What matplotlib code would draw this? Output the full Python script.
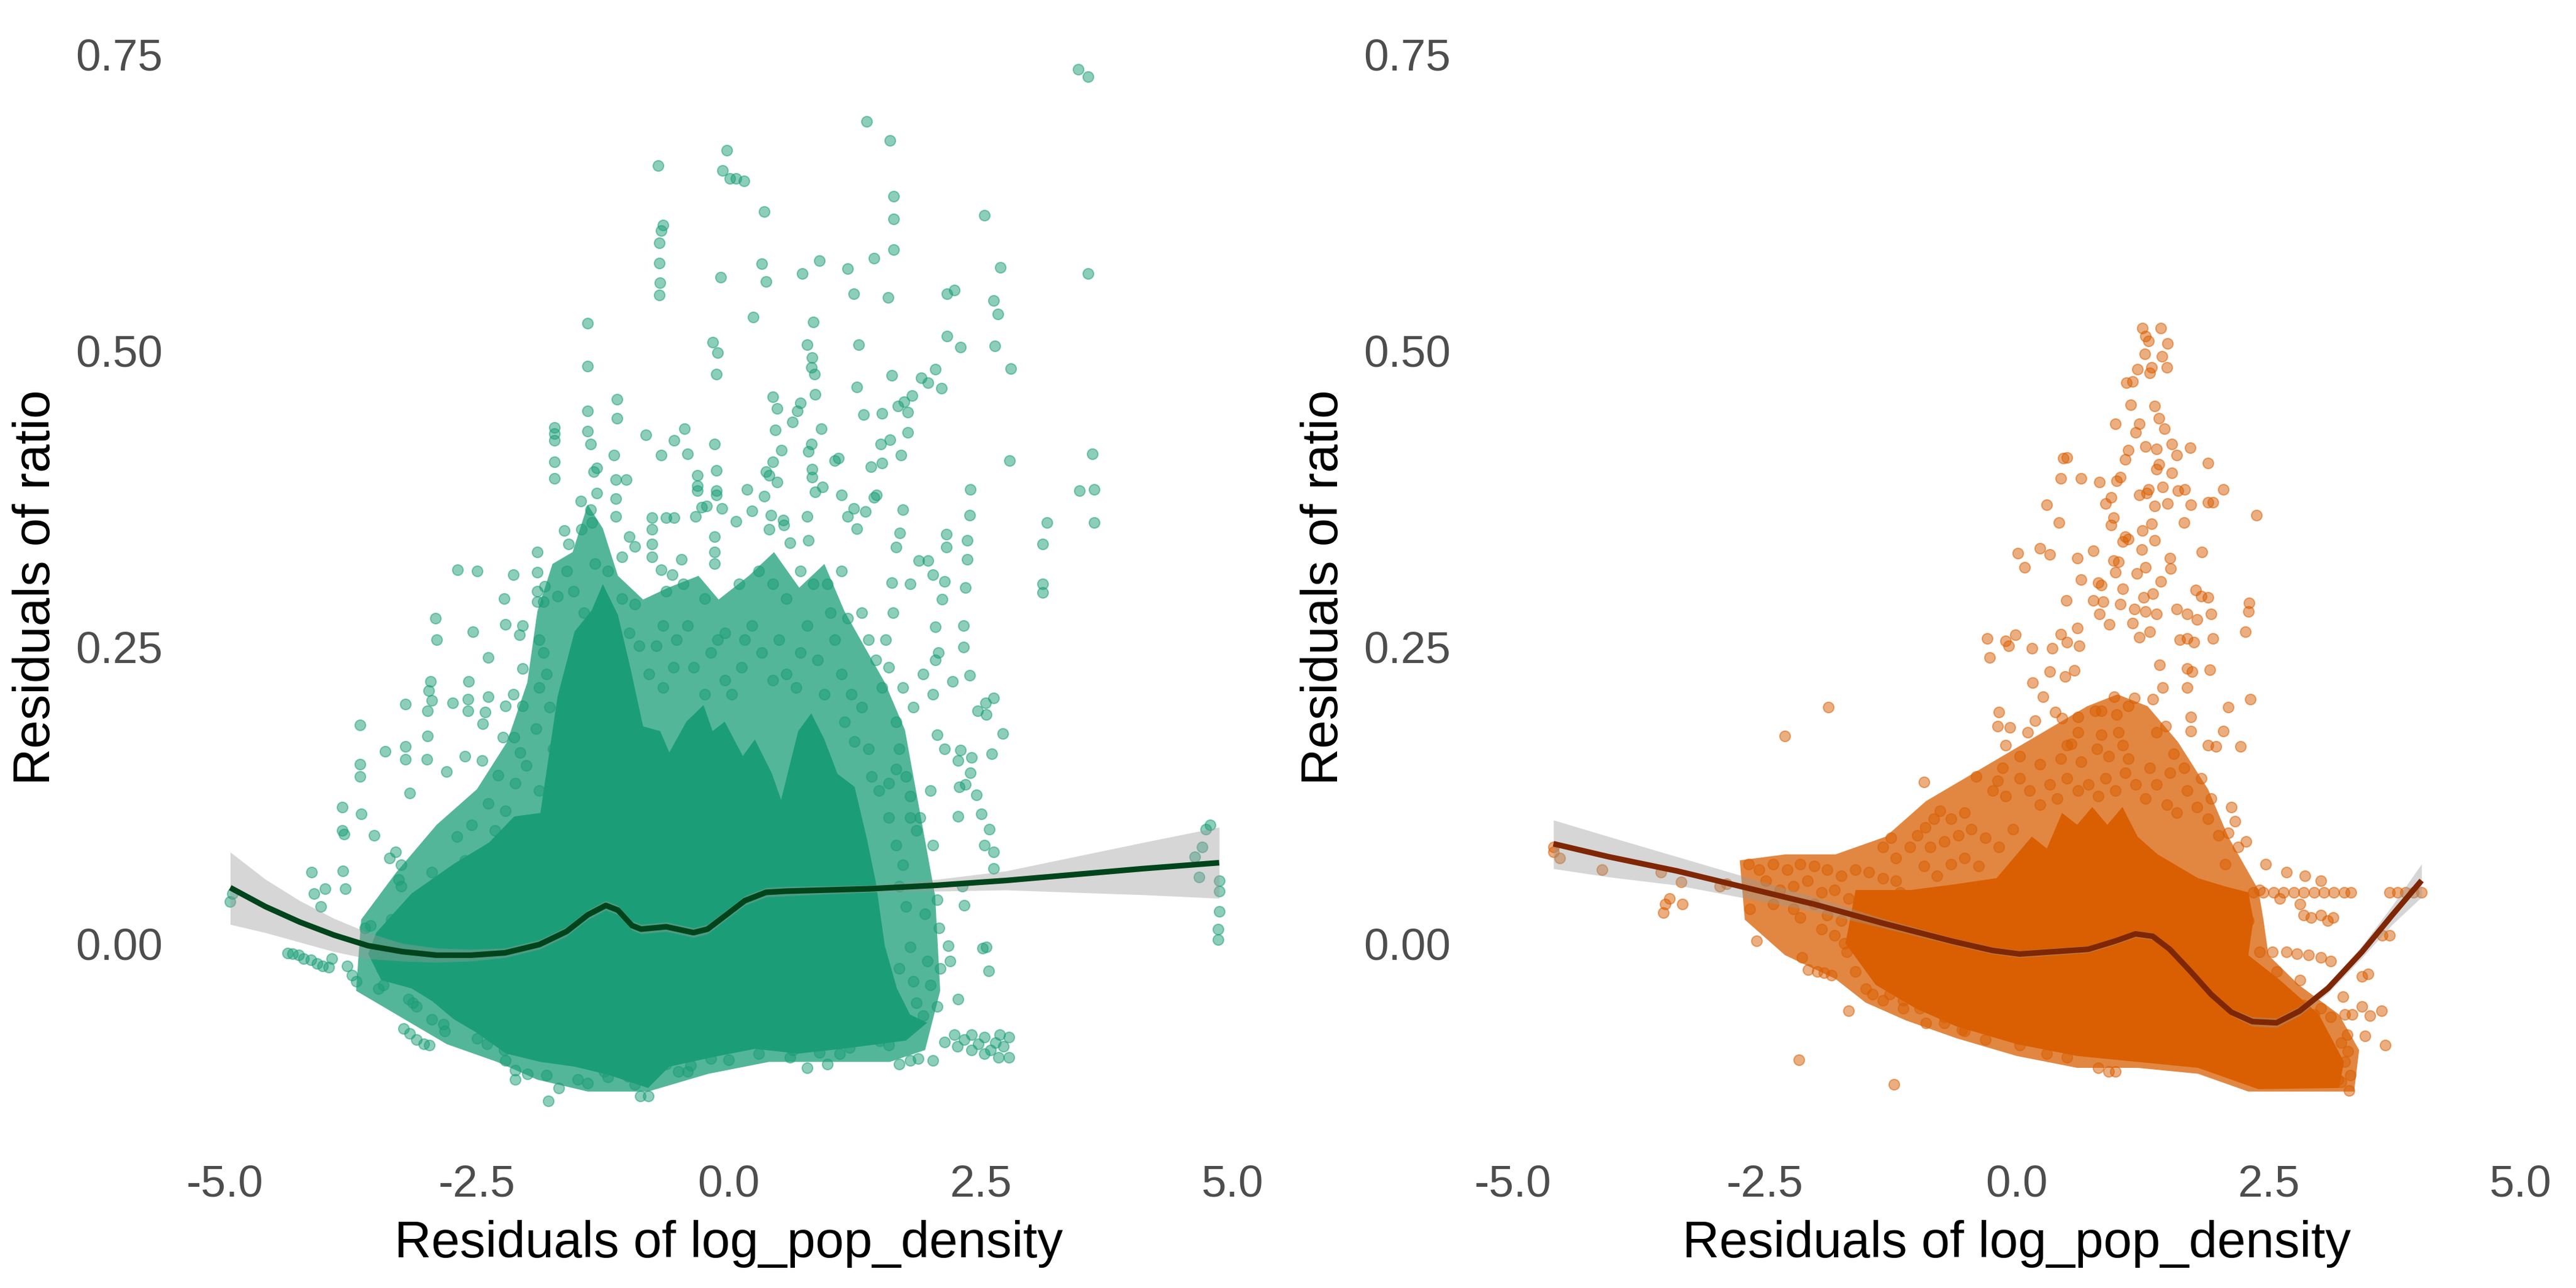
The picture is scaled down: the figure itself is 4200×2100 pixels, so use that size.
import numpy as np
import matplotlib.pyplot as plt

plt.rcParams['font.family'] = ['Liberation Sans', 'DejaVu Sans']

GREEN = '#1b9e77'
ORANGE = '#d95f02'
GREEN_LINE = '#00441b'
ORANGE_LINE = '#7f2704'

x_ticks = [-5.0, -2.5, 0.0, 2.5, 5.0]
x_tick_labels = ['-5.0', '-2.5', '0.0', '2.5', '5.0']
y_ticks = [0.0, 0.25, 0.50, 0.75]
y_tick_labels = ['0.00', '0.25', '0.50', '0.75']

# ---------------- left panel (green) ----------------
# outline of the saturated core of the cloud (points fully overlapping)
left_core_x = [-3.58, -3.50, -3.15, -2.73, -2.38, -2.13, -1.87, -1.70, -1.53, -1.36, -1.25, -1.10,
               -0.97, -0.85, -0.68, -0.59, -0.42, -0.25, -0.16, -0.04, 0.14, 0.26, 0.43, 0.52,
               0.69, 0.82, 0.95, 1.08, 1.25, 1.37, 1.46, 1.55, 1.67, 1.80, 1.97, 1.76, 1.12, 0.69,
               0.26, -0.16, -0.59, -0.80, -1.19, -1.53, -1.87, -2.21, -2.51, -2.73, -2.94, -3.15,
               -3.45]
left_core_y = [-0.009, 0.009, 0.042, 0.067, 0.085, 0.107, 0.110, 0.208, 0.263, 0.281, 0.303, 0.277,
               0.230, 0.183, 0.179, 0.161, 0.187, 0.201, 0.179, 0.187, 0.158, 0.172, 0.143, 0.121,
               0.179, 0.194, 0.172, 0.143, 0.132, 0.089, 0.052, -0.002, -0.038, -0.060, -0.067,
               -0.082, -0.089, -0.093, -0.089, -0.096, -0.104, -0.122, -0.111, -0.104, -0.100,
               -0.093, -0.075, -0.064, -0.049, -0.038, -0.031]

# outline of the thinner zone where the points still overlap a lot
left_halo_x = [-3.70, -3.65, -3.30, -2.90, -2.50, -2.20, -2.00, -1.90, -1.75, -1.55, -1.40, -1.25,
               -1.10, -0.85, -0.60, -0.30, -0.10, 0.20, 0.45, 0.70, 0.95, 1.15, 1.35, 1.55, 1.75,
               1.90, 2.05, 2.10, 1.95, 1.60, 1.00, 0.40, -0.20, -0.80, -1.40, -1.90, -2.30, -2.80,
               -3.30]
left_halo_y = [-0.040, 0.020, 0.060, 0.100, 0.130, 0.170, 0.220, 0.280, 0.320, 0.330, 0.370, 0.350,
               0.310, 0.290, 0.300, 0.310, 0.290, 0.310, 0.330, 0.300, 0.320, 0.280, 0.250, 0.220,
               0.180, 0.110, 0.040, -0.040, -0.090, -0.100, -0.100, -0.100, -0.110, -0.125,
               -0.125, -0.115, -0.100, -0.085, -0.060]

left_high_x = [3.47, 3.57, 1.37, 1.60, -0.70, -0.02, -0.06, 0.01, 0.07, 0.15, 0.35, -0.65, -0.67,
               -0.69, -0.69, -0.68, -0.69, 1.64, 1.64, 1.64, 2.54, 2.70, 3.57, 0.33, 0.37, -0.08,
               0.73, 0.90, 1.18, 1.44, 1.24, 1.58, 2.17, 2.24, 2.63, 2.67, 2.17, 2.30, 2.64, 2.80,
               0.24, 0.84, 0.78, 1.29, -0.16, -0.11, -0.12, -1.40, -1.40, 0.83, 0.82, 0.85, 1.27,
               1.62, 1.91, 1.98, 2.05, 2.11, 1.82, 1.74, 1.68, 1.78, 1.52, 1.34, 0.44, 0.48, 0.63,
               0.68, 0.71, 0.92, 0.46, 0.86, -1.11, -1.11, -1.40, -1.40, -0.82, -0.54, -0.44, -0.14,
               -0.67, -0.41, -1.73, -1.73, -1.73, -1.73, -1.73, -1.37, -1.14, 1.51, 1.60, 1.71,
               1.78, 1.41, 1.52, 2.79, 3.61, 3.48, 3.63, 3.63, 3.16, 3.12, 3.12, 3.12, 2.40, 2.39,
               2.37, 2.37, 2.35, 2.16, 2.16, 1.73, 1.44, 1.70, 1.66, 1.98, 1.89, 1.62, 1.80, 2.03,
               2.14, 2.12]
left_high_y = [0.737, 0.731, 0.693, 0.677, 0.656, 0.669, 0.652, 0.645, 0.645, 0.643, 0.617, 0.606,
               0.601, 0.591, 0.574, 0.557, 0.547, 0.630, 0.611, 0.585, 0.614, 0.570, 0.565, 0.573,
               0.558, 0.562, 0.565, 0.576, 0.569, 0.578, 0.548, 0.545, 0.548, 0.551, 0.542, 0.531,
               0.512, 0.503, 0.504, 0.485, 0.528, 0.524, 0.505, 0.505, 0.507, 0.498, 0.480, 0.523,
               0.487, 0.494, 0.486, 0.480, 0.469, 0.479, 0.477, 0.473, 0.484, 0.468, 0.462, 0.457,
               0.453, 0.448, 0.447, 0.446, 0.461, 0.451, 0.440, 0.449, 0.456, 0.434, 0.433, 0.463,
               0.459, 0.443, 0.449, 0.432, 0.429, 0.424, 0.434, 0.421, 0.412, 0.413, 0.435, 0.430,
               0.424, 0.406, 0.392, 0.421, 0.412, 0.421, 0.425, 0.412, 0.431, 0.402, 0.405, 0.407,
               0.413, 0.382, 0.383, 0.355, 0.355, 0.337, 0.303, 0.296, 0.383, 0.361, 0.340, 0.324,
               0.300, 0.345, 0.334, 0.366, 0.376, 0.346, 0.334, 0.323, 0.323, 0.304, 0.303, 0.311,
               0.305, 0.290]

left_mid_x = [2.33, 2.33, 2.39, 2.05, 2.08, 2.05, 2.22, 2.63, 2.55, 2.47, 2.72, 2.61, 2.56, 2.41,
              2.40, 2.30, 2.28, 2.35, 2.29, 2.46, 2.28, 2.51, 2.59, 2.63, 2.54, 2.63, 2.32, 2.34,
              1.95, 2.09, -3.66, -3.66, -3.66, -3.65, -3.52, -3.41, -3.21, -3.21, -3.21, -3.17,
              -2.99, -3.00, -2.91, -2.90, -2.98, -2.96, -2.95, -2.99, -2.80, -2.62, -2.74, -2.58,
              -2.59, -2.59, -2.54, -2.69, -2.50, -2.39, -2.42, -2.44, -2.39, -2.45, -2.23, -2.22,
              -2.08, -2.05, -2.14, -2.14, -2.22, -2.24, -2.29, -2.05, -2.05, -2.13, -2.07, -1.90,
              -1.90, -1.90, -1.90, -1.83, -1.84, -1.70, -1.63, -1.59, -1.47, -1.46, -1.37, -1.36,
              -1.31, -1.34, -1.31, -1.12, -1.12, -1.12, -1.02, -0.93, -0.76, -0.76, -0.76, -0.76,
              -0.62, -0.54, -0.67, -0.56, -0.47, -0.31, -0.31, -0.31, -0.33, -0.27, -0.12, -0.12,
              -0.12, -0.22, -0.07, 0.07, -0.14, -0.14, -0.14, 0.18, 0.23, 0.35, 0.37, 0.44, 0.40,
              0.48, 0.42, 0.40, 0.54, 0.55, 0.52, 0.79, 0.82, 0.83, 0.83, 0.86, 0.93, 1.05, 1.09,
              1.12, 1.24, 1.27, 1.18, 0.78, 0.61, 0.79, 1.36, 1.47]
left_mid_y = [0.268, 0.250, 0.226, 0.267, 0.245, 0.239, 0.221, 0.207, 0.203, 0.196, 0.177, 0.160,
              0.193, 0.157, 0.144, 0.163, 0.154, 0.134, 0.132, 0.125, 0.107, 0.109, 0.096, 0.077,
              0.083, 0.063, 0.048, 0.032, 0.025, 0.013, 0.184, 0.151, 0.141, 0.109, 0.091, 0.162,
              0.166, 0.155, 0.202, 0.127, 0.175, 0.155, 0.274, 0.256, 0.213, 0.221, 0.205, 0.196,
              0.145, 0.158, 0.203, 0.221, 0.206, 0.196, 0.263, 0.315, 0.314, 0.241, 0.195, 0.185,
              0.208, 0.154, 0.291, 0.269, 0.260, 0.268, 0.311, 0.210, 0.200, 0.174, 0.142, 0.232,
              0.200, 0.174, 0.161, 0.330, 0.313, 0.297, 0.288, 0.301, 0.288, 0.293, 0.348, 0.337,
              0.373, 0.349, 0.366, 0.355, 0.380, 0.398, 0.401, 0.391, 0.375, 0.360, 0.391, 0.335,
              0.359, 0.349, 0.337, 0.326, 0.359, 0.359, 0.315, 0.311, 0.324, 0.395, 0.386, 0.382,
              0.360, 0.368, 0.399, 0.382, 0.378, 0.369, 0.367, 0.356, 0.343, 0.330, 0.320, 0.383,
              0.365, 0.377, 0.398, 0.406, 0.395, 0.389, 0.361, 0.349, 0.357, 0.353, 0.416, 0.415,
              0.421, 0.400, 0.393, 0.381, 0.385, 0.407, 0.409, 0.378, 0.367, 0.350, 0.360, 0.360,
              0.338, 0.340, 0.364, 0.378]

left_dense_x = [-1.88, -1.84, -1.81, -1.88, -1.78, -1.91, -1.74, -2.01, -2.12, -2.22, -2.32, -2.39,
                -1.88, -1.61, -1.54, -1.44, -1.33, -1.20, -1.06, -0.99, -0.89, -0.79, -0.65, -0.55,
                -0.52, -0.41, -0.35, -0.24, -0.18, -0.11, -0.04, 0.03, 0.13, 0.16, 0.23, 0.33, 0.44,
                0.50, 0.57, 0.67, 0.71, 0.78, 0.88, 0.95, 1.01, 1.05, 1.12, 1.15, 1.22, 1.25, 1.32,
                1.39, 1.42, 1.49, 1.52, 1.59, 1.66, 1.69, 1.76, 1.59, -0.65, -0.72, -0.93, -1.06,
                -0.99, -0.62, -0.45, -0.24, -0.04, 0.10, 0.30, 0.44, 0.57, 0.71, 0.84, 0.98, 1.12,
                1.18, 1.32, 1.39, 1.46, 1.56, 1.63, 1.73, 1.83, 1.93, 2.03, 2.07, 2.14, 2.00, 1.90]
left_dense_y = [0.256, 0.245, 0.227, 0.216, 0.199, 0.181, 0.164, 0.150, 0.135, 0.112, 0.095, 0.118,
                0.129, 0.314, 0.297, 0.279, 0.320, 0.314, 0.291, 0.262, 0.251, 0.227, 0.216, 0.233,
                0.256, 0.268, 0.233, 0.210, 0.245, 0.256, 0.222, 0.210, 0.233, 0.256, 0.268, 0.245,
                0.222, 0.256, 0.227, 0.216, 0.245, 0.268, 0.239, 0.210, 0.279, 0.256, 0.227, 0.187,
                0.210, 0.170, 0.199, 0.164, 0.141, 0.129, 0.216, 0.233, 0.187, 0.164, 0.141, 0.106,
                0.268, 0.251, 0.286, 0.326, 0.343, 0.297, 0.303, 0.291, 0.262, 0.303, 0.314, 0.303,
                0.291, 0.314, 0.303, 0.303, 0.314, 0.274, 0.279, 0.256, 0.239, 0.256, 0.279, 0.216,
                0.199, 0.227, 0.210, 0.176, 0.164, 0.129, 0.106]

left_edge_x = [-4.95, -4.93, -4.14, -4.12, -4.01, -4.05, -3.83, -3.81, -3.84, -3.82, -3.84, -4.38,
               -4.33, -4.27, -4.22, -4.15, -4.09, -4.03, -3.97, -3.94, -3.79, -3.74, -3.70, -3.61,
               -3.56, -3.49, -3.45, -3.40, -3.48, -3.43, -3.23, -3.17, -3.10, -3.03, -2.97, -3.18,
               -3.14, -3.10, -3.37, -3.31, -3.25, -3.28, -3.25, -3.35, -3.07, -3.10, -2.91, -2.95,
               -2.83, -2.82, -2.25, -2.23, -2.22, -2.12, -2.12, -1.81, -1.79, -1.69, -1.50, -1.24,
               -1.20, -0.93, -0.88, -0.80, -0.62, -0.41, -0.38, -0.18, 0.16, 0.44, 0.61, 0.64, 0.78,
               0.98, 1.10, 1.36, 1.59, 1.69, 1.80, 1.88, 2.03, 2.14, 2.24, 2.27, 2.34, 2.41, 2.48,
               2.54, 2.60, 2.65, 2.69, 2.73, 2.78, 2.78, 2.68, 2.54, 2.41, 1.66, 1.73, 1.69, 1.76,
               1.80, 1.69, 1.83, 1.86, 1.93, 2.00, 1.97, 1.86, 1.80, 2.03, 2.07, 2.10, 2.07, 1.80,
               1.59, 1.66, 2.56, 2.52, 2.58, 2.28, 2.18, 2.20, 4.63, 4.70, 4.78, 4.74, 4.67, 4.87,
               4.87, 4.87, 4.86, 4.86, -2.70, -2.62, -2.55, -2.88, -2.95, -2.75, -2.65, -2.50,
               -2.40, -2.00, -1.40, -1.00, -0.50, 0.00, 0.30, 0.90, 1.20, 1.50]
left_edge_y = [0.035, 0.042, 0.060, 0.042, 0.046, 0.031, 0.061, 0.046, 0.095, 0.092, 0.115, -0.008,
               -0.009, -0.010, -0.013, -0.014, -0.017, -0.019, -0.020, -0.013, -0.019, -0.027,
               -0.032, 0.013, 0.015, -0.012, -0.021, -0.027, -0.038, -0.035, -0.072, -0.076, -0.081,
               -0.085, -0.086, -0.047, -0.050, -0.053, 0.072, 0.077, 0.066, 0.054, 0.048, 0.020,
               0.031, 0.014, -0.018, -0.064, -0.068, -0.074, -0.083, -0.090, -0.099, -0.107,
               -0.115, -0.111, -0.133, -0.122, -0.115, -0.108, -0.113, -0.119, -0.129, -0.129,
               -0.102, -0.108, -0.103, -0.097, -0.085, -0.085, -0.096, -0.090, -0.105, -0.102,
               -0.093, -0.076, -0.086, -0.102, -0.099, -0.097, -0.099, -0.083, -0.077, -0.087,
               -0.081, -0.077, -0.085, -0.079, -0.090, -0.084, -0.077, -0.087, -0.096, -0.079,
               -0.096, -0.093, -0.090, 0.083, 0.066, 0.048, 0.031, -0.003, -0.021, -0.032, -0.050,
               -0.061, -0.035, -0.015, 0.095, 0.106, 0.083, 0.037, -0.021, -0.053, 0.124, 0.135,
               0.147, -0.003, -0.004, -0.023, -0.047, -0.002, -0.015, 0.073, 0.081, 0.100, 0.096,
               0.056, 0.053, 0.044, 0.027, 0.012, 0.003, 0.090, 0.070, 0.100, 0.040, 0.060, -0.030,
               -0.060, -0.080, -0.085, -0.110, -0.118, -0.112, -0.108, -0.098, -0.093, -0.092,
               -0.088, -0.082]

left_fit_x = [-4.95, -4.60, -4.26, -3.92, -3.58, -3.24, -2.90, -2.56, -2.22, -1.88, -1.61, -1.40,
              -1.22, -1.10, -0.96, -0.87, -0.62, -0.35, -0.21, -0.04, 0.16, 0.37, 0.57, 1.39,
              2.07, 2.75, 3.43, 4.11, 4.87]
left_fit_y = [0.047, 0.031, 0.018, 0.007, -0.002, -0.007, -0.010, -0.010, -0.008, -0.001, 0.010,
              0.024, 0.032, 0.028, 0.015, 0.012, 0.014, 0.009, 0.012, 0.023, 0.036, 0.043, 0.044,
              0.046, 0.049, 0.053, 0.058, 0.063, 0.068]
left_fit_hi = [0.077, 0.054, 0.036, 0.021, 0.009, 0.000, -0.004, -0.005, -0.004, 0.003, 0.014,
               0.028, 0.036, 0.032, 0.019, 0.016, 0.018, 0.013, 0.016, 0.027, 0.040, 0.047, 0.048,
               0.049, 0.054, 0.061, 0.073, 0.085, 0.098]
left_fit_lo = [0.016, 0.009, 0.001, -0.007, -0.013, -0.015, -0.016, -0.015, -0.012, -0.005, 0.006,
               0.020, 0.028, 0.024, 0.011, 0.008, 0.010, 0.005, 0.008, 0.019, 0.032, 0.039, 0.040,
               0.043, 0.044, 0.045, 0.043, 0.041, 0.038]

# ---------------- right panel (orange) ----------------
right_core_x = [-1.60, -1.05, -0.60, -0.20, 0.00, 0.15, 0.30, 0.45, 0.60, 0.75, 0.90, 1.05, 1.20,
                1.40, 1.60, 1.80, 2.07, 2.30, 2.35, 2.30, 2.60, 3.00, 3.25, 3.20, 2.40, 1.80, 1.20,
                0.60, 0.00, -0.60, -1.00, -1.40, -1.70]
right_core_y = [0.045, 0.045, 0.050, 0.055, 0.075, 0.090, 0.080, 0.110, 0.100, 0.115, 0.100, 0.115,
                0.090, 0.075, 0.065, 0.055, 0.048, 0.043, 0.020, -0.010, -0.030, -0.060, -0.100,
                -0.122, -0.123, -0.105, -0.100, -0.095, -0.085, -0.070, -0.055, -0.035, 0.000]

right_halo_x = [-2.75, -2.30, -1.80, -1.30, -0.90, -0.50, -0.10, 0.30, 0.70, 1.00, 1.30, 1.60,
                1.90, 2.10, 2.30, 2.40, 2.45, 2.50, 2.80, 3.20, 3.40, 3.35, 2.80, 2.30, 1.80,
                1.20, 0.60, 0.00, -0.60, -1.10, -1.50, -1.80, -2.30, -2.70]
right_halo_y = [0.070, 0.075, 0.075, 0.090, 0.120, 0.140, 0.160, 0.180, 0.200, 0.210, 0.200,
                0.170, 0.130, 0.090, 0.060, 0.045, 0.020, -0.010, -0.035, -0.060, -0.090, -0.125,
                -0.125, -0.125, -0.110, -0.105, -0.105, -0.095, -0.080, -0.065, -0.050, -0.030,
                -0.010, 0.020]

right_high_x = [1.25, 1.43, 1.28, 1.31, 1.50, 1.27, 1.44, 1.34, 1.20, 1.32, 1.49, 1.15, 1.09, 1.13,
                1.37, 1.41, 1.22, 1.18, 1.47, 0.98, 1.28, 1.11, 1.39, 1.54, 1.72, 1.59, 1.08, 1.41,
                1.39, 1.54, 1.90, 0.46, 0.50, 0.44, 0.64, 0.82, 1.03, 0.99, 1.31, 1.29, 1.22, 1.45,
                1.60, 1.67, 2.05, 1.90, 1.95, 0.94, 0.88, 1.37, 1.50, 1.73, 2.38, 0.30, 0.42, 0.96,
                0.94, 1.34, 1.66, 1.25, 1.37, 1.08, 1.11, 1.05, 0.76, 0.60, 0.23, 0.33, 0.01, 0.08,
                1.24, 1.84, 0.96, 1.01, 1.52, 0.98, 1.19, 1.28, 1.53, 1.43, 0.64, 0.84, 0.81, 1.05,
                1.78, 1.83, 0.49, 0.76, 0.86, 1.03, 1.26, 1.35, 1.17, 1.28, 1.39, 1.59, 1.69, 1.93,
                1.79, 1.90, 2.31, 2.30, 2.27, 1.95, 1.62, 1.69, 1.76, 1.32, 1.22, 1.15, 0.92, 0.82,
                0.60, 0.50, 0.62, 0.44, 0.35, 0.15, -0.11, -0.01, -0.29, -0.27, -0.08, 1.92, 1.74,
                1.69, 1.42, 1.45, 1.69, 1.35, 1.17, 1.11, 0.84, 0.97, 0.99, 0.78, 0.48, 0.57, 0.33,
                0.26, 0.16, 0.38, 0.45, 0.61, 1.73, 2.10, 2.32, -0.18, -0.19, -0.07, 0.11, 0.18,
                0.61, 0.54, 0.80, 0.84, 1.01, 1.39, 1.48, 1.73, 1.90, 1.98, 2.22, 2.05]
right_high_y = [0.519, 0.519, 0.512, 0.508, 0.506, 0.497, 0.495, 0.486, 0.484, 0.481, 0.486, 0.474,
                0.473, 0.454, 0.453, 0.443, 0.438, 0.431, 0.434, 0.438, 0.419, 0.416, 0.417, 0.421,
                0.418, 0.412, 0.408, 0.404, 0.400, 0.397, 0.405, 0.409, 0.410, 0.392, 0.392, 0.389,
                0.393, 0.390, 0.383, 0.380, 0.378, 0.385, 0.382, 0.383, 0.383, 0.372, 0.372, 0.376,
                0.371, 0.369, 0.371, 0.370, 0.361, 0.370, 0.355, 0.359, 0.353, 0.354, 0.355, 0.348,
                0.340, 0.343, 0.341, 0.339, 0.331, 0.325, 0.333, 0.328, 0.329, 0.317, 0.332, 0.330,
                0.323, 0.322, 0.325, 0.313, 0.312, 0.317, 0.316, 0.305, 0.307, 0.302, 0.304, 0.299,
                0.298, 0.293, 0.289, 0.289, 0.288, 0.286, 0.292, 0.295, 0.282, 0.280, 0.278, 0.282,
                0.278, 0.278, 0.273, 0.292, 0.287, 0.280, 0.263, 0.257, 0.256, 0.257, 0.254, 0.263,
                0.258, 0.270, 0.269, 0.278, 0.266, 0.254, 0.251, 0.261, 0.249, 0.249, 0.255, 0.260,
                0.257, 0.241, 0.251, 0.231, 0.229, 0.232, 0.235, 0.216, 0.216, 0.206, 0.207, 0.200,
                0.196, 0.208, 0.193, 0.196, 0.225, 0.230, 0.229, 0.208, 0.220, 0.195, 0.190, 0.191,
                0.191, 0.199, 0.206, 0.195, 0.183, 0.182, 0.178, 0.188, 0.178, 0.168, 0.164, 0.176,
                0.178, 0.178, 0.183, 0.179, 0.167, 0.166, 0.166, 0.179]

right_wing_x = [-4.60, -4.54, -4.60, -4.12, -3.53, -3.33, -3.49, -3.45, -3.51, -3.32, -2.95, -2.88,
                -2.66, -2.65, -2.58, -2.30, -1.87, -2.13, -2.07, -1.98, -1.91, -1.84, -2.16, -1.22,
                -1.67, -1.69, -1.60, -1.50, -1.43, -1.33, -1.26, -1.13, -0.90, -0.72, -0.54, -0.92,
                -0.40, -0.19, -1.25, -0.91, -0.82, -0.76, -0.65, -0.52, -2.56, -2.42, -2.28, -2.15,
                -2.01, -1.88, -1.74, -1.60, -1.47, -1.33, -1.20, -2.49, -2.35, -2.22, -2.08, -1.94,
                -1.81, -1.67, -1.54, -1.40, -1.26, -1.16, -2.42, -2.22, -2.01, -1.88, -1.74, -1.60,
                -1.47, -1.33, -2.15, -1.94, -1.81, -1.71, -1.33, -1.20, -1.06, -0.99, -0.86, -0.72,
                -0.58, -0.45, -0.31, -0.18, -0.04, -0.65, -0.52, -0.38, -0.92, -0.79]
right_wing_y = [0.077, 0.072, 0.081, 0.062, 0.060, 0.052, 0.033, 0.038, 0.026, 0.033, 0.048, 0.050,
                0.067, 0.029, 0.002, 0.175, 0.199, -0.012, -0.022, -0.024, -0.025, -0.027, -0.098,
                -0.119, -0.057, -0.007, -0.024, -0.038, -0.043, -0.048, -0.043, -0.048, -0.067,
                -0.062, -0.073, 0.136, 0.141, 0.137, 0.089, 0.098, 0.105, 0.112, 0.105, 0.110,
                0.062, 0.067, 0.062, 0.067, 0.065, 0.062, 0.057, 0.062, 0.060, 0.055, 0.053, 0.053,
                0.045, 0.048, 0.053, 0.043, 0.045, 0.038, 0.033, 0.038, 0.029, 0.043, 0.033, 0.029,
                0.033, 0.024, 0.019, 0.014, 0.010, -0.005, 0.022, 0.012, 0.007, 0.000, 0.081, 0.072,
                0.081, 0.091, 0.081, 0.086, 0.091, 0.096, 0.089, 0.081, 0.096, 0.067, 0.072, 0.065,
                0.065, 0.057]

right_mid_x = [-0.24, -0.11, 0.03, 0.13, 0.23, 0.33, 0.40, 0.50, 0.61, 0.71, 0.81, 0.88, 0.98, 1.08,
               1.18, 1.28, 1.39, 1.49, 1.59, 1.69, 1.79, 1.90, 2.00, 1.93, 1.83, 1.52, 1.32, 1.11,
               0.91, 0.64, 0.44, 0.23, 0.03, -0.14, -0.11, 0.50, 1.05, 1.56, 1.66, 2.13]
right_mid_y = [0.129, 0.124, 0.139, 0.129, 0.117, 0.134, 0.122, 0.139, 0.129, 0.134, 0.124, 0.139,
               0.129, 0.144, 0.134, 0.122, 0.134, 0.117, 0.110, 0.129, 0.115, 0.105, 0.091, 0.122,
               0.139, 0.144, 0.148, 0.156, 0.158, 0.153, 0.156, 0.151, 0.158, 0.148, 0.167, 0.167,
               0.167, 0.160, 0.148, 0.115]

right_edge_x = [2.47, 2.68, 2.86, 3.02, 2.85, 2.92, 3.02, 3.09, 3.14, 2.24, 2.30, 2.41, 2.54, 2.68,
                2.78, 2.90, 3.02, 3.12, 2.58, 2.81, 3.24, 3.43, 3.49, 3.63, 3.70, 3.43, 3.26, 3.33,
                3.51, 3.62, 3.46, 3.66, 3.28, 3.22, 3.29, 3.26, 3.31, 3.30, 3.19, 3.14, 3.05, 3.22,
                3.02, 3.12, 2.54, 2.68, 2.85, 2.95, 2.07, 2.20, 2.41, 2.61, 2.81, 2.07, 2.20, 2.28,
                2.10, 2.17, 0.81, 0.91, 0.98, 0.50, 0.30, 0.03, -0.31, -0.52, -0.72, -0.96, -1.13,
                2.35, 2.45, 2.55, 2.65, 2.75, 2.85, 2.95, 3.05, 3.15, 3.25, 3.32, 3.70, 3.78, 3.86,
                3.94, 4.02]
right_edge_y = [0.067, 0.060, 0.057, 0.053, 0.024, 0.022, 0.024, 0.019, 0.022, 0.017, 0.019, -0.007,
                -0.007, -0.007, -0.009, -0.010, -0.012, -0.015, -0.024, -0.031, -0.045, -0.028,
                -0.026, 0.007, 0.007, -0.053, -0.060, -0.060, -0.061, -0.057, -0.078, -0.086,
                -0.077, -0.084, -0.091, -0.100, -0.111, -0.124, -0.115, -0.108, -0.100, -0.117,
                -0.055, -0.062, -0.050, -0.057, -0.052, -0.060, 0.043, 0.038, 0.045, 0.038, 0.033,
                0.067, 0.081, 0.086, 0.093, 0.103, -0.105, -0.108, -0.108, -0.096, -0.093, -0.086,
                -0.081, -0.074, -0.067, -0.055, -0.055, 0.043, 0.043, 0.043, 0.043, 0.043, 0.043,
                0.043, 0.043, 0.043, 0.043, 0.043, 0.043, 0.043, 0.043, 0.043, 0.043]

right_fit_x = [-4.60, -4.05, -3.37, -2.69, -2.01, -1.33, -0.65, -0.24, 0.03, 0.37, 0.71, 0.98, 1.18,
               1.35, 1.52, 1.73, 1.93, 2.13, 2.34, 2.58, 2.81, 3.09, 3.43, 3.73, 4.02]
right_fit_y = [0.084, 0.073, 0.061, 0.047, 0.033, 0.017, 0.002, -0.006, -0.009, -0.007, -0.005,
               0.002, 0.008, 0.006, -0.005, -0.024, -0.043, -0.058, -0.066, -0.067, -0.057, -0.038,
               -0.007, 0.024, 0.053]
right_fit_hi = [0.104, 0.090, 0.073, 0.056, 0.039, 0.021, 0.005, -0.003, -0.006, -0.004, -0.002,
                0.005, 0.011, 0.009, -0.002, -0.021, -0.040, -0.055, -0.062, -0.063, -0.053,
                -0.034, -0.002, 0.032, 0.067]
right_fit_lo = [0.063, 0.056, 0.049, 0.038, 0.027, 0.013, -0.001, -0.009, -0.012, -0.010, -0.008,
                -0.001, 0.005, 0.003, -0.008, -0.027, -0.046, -0.061, -0.070, -0.071, -0.061,
                -0.042, -0.012, 0.016, 0.039]


def draw_panel(ax, zones, groups, fit, color, line_color):
    # zones: (x, y, opacity), the looser halo first, then the saturated core
    for zx, zy, a in zones:
        ax.fill(zx, zy, color=color, alpha=a, lw=0, zorder=1)
    for gx, gy in groups:
        ax.scatter(gx, gy, s=17, color=color, alpha=0.5, linewidths=0.5,
                   edgecolors=color, zorder=2)
    fx, fy, flo, fhi = fit
    ax.fill_between(fx, flo, fhi, color='#999999', alpha=0.4, lw=0, zorder=3)
    ax.plot(fx, fy, color=line_color, lw=2.2, zorder=4, solid_capstyle='butt')

    ax.set_xlim(-5.5, 5.5)
    ax.set_ylim(-0.18, 0.78)
    ax.set_xticks(x_ticks)
    ax.set_xticklabels(x_tick_labels)
    ax.set_yticks(y_ticks)
    ax.set_yticklabels(y_tick_labels)
    for s in ax.spines.values():
        s.set_visible(False)
    ax.tick_params(axis='both', length=0, labelsize=17.5, labelcolor='#4d4d4d')
    ax.tick_params(axis='x', pad=3)
    ax.tick_params(axis='y', pad=4.8)
    ax.set_xlabel('Residuals of log_pop_density', fontsize=20, color='black')
    ax.set_ylabel('Residuals of ratio', fontsize=20, color='black')
    ax.xaxis.set_label_coords(0.5, -0.0765)
    ax.xaxis.label.set_va('center')
    ax.yaxis.set_label_coords(-0.125, 0.5)
    ax.yaxis.label.set_va('center')


fig = plt.figure(figsize=(14, 7), dpi=300)
ax_l = fig.add_axes([0.06786, 0.10190, 0.43005, 0.88367])
ax_r = fig.add_axes([0.56786, 0.10190, 0.43005, 0.88367])

draw_panel(ax_l,
           [(left_halo_x, left_halo_y, 0.75), (left_core_x, left_core_y, 1.0)],
           [(left_dense_x, left_dense_y), (left_mid_x, left_mid_y),
            (left_high_x, left_high_y), (left_edge_x, left_edge_y)],
           (left_fit_x, left_fit_y, left_fit_lo, left_fit_hi), GREEN, GREEN_LINE)
draw_panel(ax_r,
           [(right_halo_x, right_halo_y, 0.75), (right_core_x, right_core_y, 1.0)],
           [(right_wing_x, right_wing_y), (right_mid_x, right_mid_y),
            (right_high_x, right_high_y), (right_edge_x, right_edge_y)],
           (right_fit_x, right_fit_y, right_fit_lo, right_fit_hi), ORANGE, ORANGE_LINE)

fig.savefig('out.png', dpi=300, facecolor='white')
